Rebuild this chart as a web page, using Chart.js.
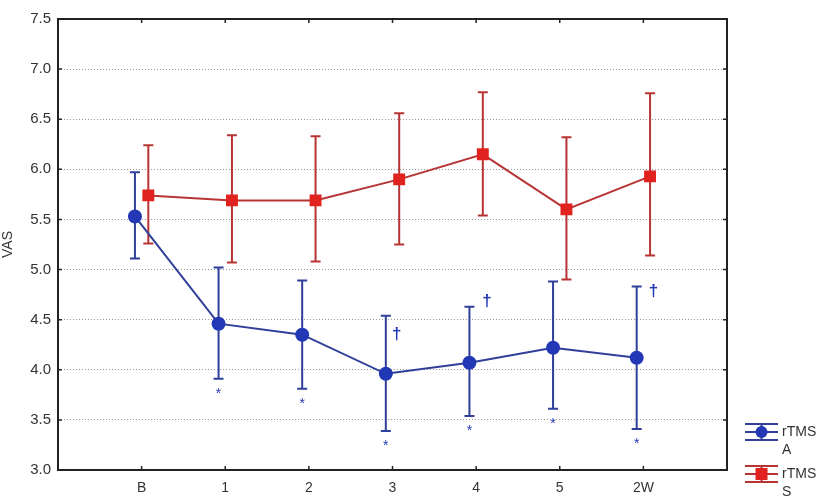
<!DOCTYPE html>
<html>
<head>
<meta charset="utf-8">
<script src="https://cdn.jsdelivr.net/npm/chart.js@4/dist/chart.umd.min.js"></script>
<style>
html,body{margin:0;padding:0;background:#fff;}
#wrap{width:826px;height:501px;}
</style>
</head>
<body>
<div id="wrap"><canvas id="c" width="826" height="501"></canvas></div>
<script>
// ---- data ----
const categories = ['B', '1', '2', '3', '4', '5', '2W'];
const yTicks = [3.0, 3.5, 4.0, 4.5, 5.0, 5.5, 6.0, 6.5, 7.0, 7.5];

const rtmsA      = [5.53, 4.46, 4.35, 3.96, 4.07, 4.22, 4.12];
const rtmsAUpper = [5.97, 5.02, 4.89, 4.54, 4.63, 4.88, 4.83];
const rtmsALower = [5.11, 3.91, 3.81, 3.39, 3.54, 3.61, 3.41];

const rtmsS      = [5.74, 5.69, 5.69, 5.90, 6.15, 5.60, 5.93];
const rtmsSUpper = [6.24, 6.34, 6.33, 6.56, 6.77, 6.32, 6.76];
const rtmsSLower = [5.26, 5.07, 5.08, 5.25, 5.54, 4.90, 5.14];

const starMarks = [false, true, true, true, true, true, true];
// dagger annotations: [x position on category axis, y value]
const daggerX = [null, null, null, 3.05, 4.13, null, 6.12];
const daggerY = [null, null, null, 4.35, 4.68, null, 4.78];

const legendNames = [['rTMS', 'A'], ['rTMS', 'S']];

// ---- styles ----
const blueLine = '#2f3f9a';
const blueFill = '#2338b5';
const redLine = '#b83434';
const redFill = '#e0231f';
const offA = -0.08, offS = 0.08;
const fontFam = '"Liberation Sans", Arial, sans-serif';

const toPts = (arr, off) => arr.map((v, i) => ({x: i + off, y: v}));

const errorBars = {
  id: 'errorBars',
  beforeDatasetsDraw(chart) {
    const {ctx, scales: {x, y}} = chart;
    const sets = [
      {v: rtmsA, hi: rtmsAUpper, lo: rtmsALower, off: offA, col: blueLine},
      {v: rtmsS, hi: rtmsSUpper, lo: rtmsSLower, off: offS, col: redLine}
    ];
    ctx.save();
    sets.forEach(s => {
      ctx.strokeStyle = s.col;
      ctx.lineWidth = 2;
      s.v.forEach((_, i) => {
        const px = x.getPixelForValue(i + s.off);
        const pHi = y.getPixelForValue(s.hi[i]);
        const pLo = y.getPixelForValue(s.lo[i]);
        ctx.beginPath();
        ctx.moveTo(px, pHi); ctx.lineTo(px, pLo);
        ctx.moveTo(px - 5, pHi); ctx.lineTo(px + 5, pHi);
        ctx.moveTo(px - 5, pLo); ctx.lineTo(px + 5, pLo);
        ctx.stroke();
      });
    });
    ctx.restore();
  },
  afterDraw(chart) {
    const {ctx, chartArea: a, scales: {x, y}} = chart;
    ctx.save();
    // frame
    ctx.strokeStyle = '#222';
    ctx.lineWidth = 2;
    ctx.strokeRect(a.left, a.top, a.right - a.left, a.bottom - a.top);
    // small ticks
    ctx.lineWidth = 1.5;
    ctx.beginPath();
    categories.forEach((_, i) => {
      const px = x.getPixelForValue(i);
      ctx.moveTo(px, a.bottom); ctx.lineTo(px, a.bottom - 4);
      ctx.moveTo(px, a.top); ctx.lineTo(px, a.top + 4);
    });
    yTicks.forEach(t => {
      const py = y.getPixelForValue(t);
      ctx.moveTo(a.left, py); ctx.lineTo(a.left + 4, py);
      ctx.moveTo(a.right, py); ctx.lineTo(a.right - 4, py);
    });
    ctx.stroke();
    // annotations
    ctx.fillStyle = blueFill;
    ctx.textAlign = 'center';
    ctx.textBaseline = 'middle';
    categories.forEach((_, i) => {
      const px = x.getPixelForValue(i + offA);
      if (starMarks[i]) {
        ctx.font = '14px ' + fontFam;
        ctx.fillText('*', px, y.getPixelForValue(rtmsALower[i]) + 15);
      }
      if (daggerX[i] !== null) {
        ctx.font = 'bold 17px ' + fontFam;
        ctx.fillText('\u2020', x.getPixelForValue(daggerX[i]), y.getPixelForValue(daggerY[i]));
      }
    });
    // legend
    const items = [
      {col: blueLine, fill: blueFill, shape: 'circle', y: 432},
      {col: redLine, fill: redFill, shape: 'rect', y: 474}
    ];
    items.forEach((it, k) => {
      const x0 = 745, x1 = 778, cx = (x0 + x1) / 2;
      ctx.strokeStyle = it.col;
      ctx.lineWidth = 2;
      ctx.beginPath();
      [-8, 0, 8].forEach(d => { ctx.moveTo(x0, it.y + d); ctx.lineTo(x1, it.y + d); });
      ctx.moveTo(cx, it.y - 8); ctx.lineTo(cx, it.y + 8);
      ctx.stroke();
      ctx.fillStyle = it.fill;
      ctx.beginPath();
      if (it.shape === 'circle') ctx.arc(cx, it.y, 6, 0, Math.PI * 2);
      else ctx.rect(cx - 6, it.y - 6, 12, 12);
      ctx.fill();
      ctx.fillStyle = '#333';
      ctx.font = '14px ' + fontFam;
      ctx.textAlign = 'left';
      ctx.fillText(legendNames[k][0], 782, it.y);
      ctx.fillText(legendNames[k][1], 782, it.y + 18);
    });
    ctx.restore();
  }
};

new Chart(document.getElementById('c'), {
  type: 'scatter',
  data: {
    datasets: [
      {
        label: 'rTMS A',
        data: toPts(rtmsA, offA),
        showLine: true,
        borderColor: blueLine,
        borderWidth: 2,
        backgroundColor: blueFill,
        pointBackgroundColor: blueFill,
        pointBorderColor: blueFill,
        pointStyle: 'circle',
        pointRadius: 6,
        tension: 0
      },
      {
        label: 'rTMS S',
        data: toPts(rtmsS, offS),
        showLine: true,
        borderColor: redLine,
        borderWidth: 2,
        backgroundColor: redFill,
        pointBackgroundColor: redFill,
        pointBorderColor: redFill,
        pointStyle: 'rect',
        pointRadius: 7,
        tension: 0
      }
    ]
  },
  options: {
    responsive: false,
    animation: false,
    layout: {padding: {top: 19, right: 99, left: 0, bottom: 0}},
    plugins: {legend: {display: false}, tooltip: {enabled: false}},
    scales: {
      x: {
        type: 'linear',
        min: -1,
        max: 7,
        afterBuildTicks: s => { s.ticks = categories.map((_, i) => ({value: i})); },
        afterFit: s => { s.height = 31; },
        grid: {display: false},
        border: {display: false},
        ticks: {
          callback: v => categories[v],
          color: '#333',
          font: {family: fontFam, size: 14},
          padding: 2,
          maxRotation: 0
        }
      },
      y: {
        min: 3,
        max: 7.5,
        afterBuildTicks: s => { s.ticks = yTicks.map(v => ({value: v})); },
        afterFit: s => { s.width = 58; },
        border: {display: false, dash: [1, 2]},
        grid: {
          color: c => (c.tick && (c.tick.value === 3 || c.tick.value === 7.5)) ? 'rgba(0,0,0,0)' : '#999',
          lineWidth: 1,
          drawTicks: false
        },
        ticks: {
          callback: v => Number(v).toFixed(1),
          color: '#333',
          font: {family: fontFam, size: 15},
          padding: 7
        },
        title: {
          display: true,
          text: 'VAS',
          color: '#333',
          font: {family: fontFam, size: 14},
          padding: {top: 0, bottom: 0}
        }
      }
    }
  },
  plugins: [errorBars]
});
</script>
</body>
</html>
